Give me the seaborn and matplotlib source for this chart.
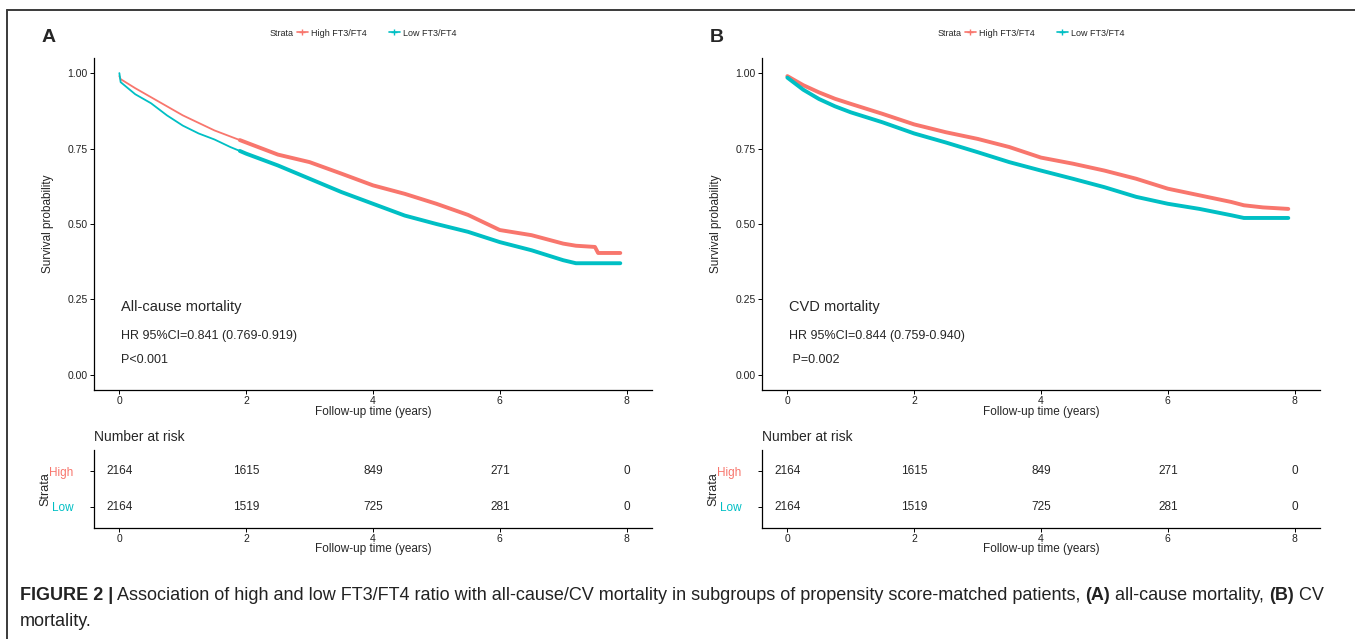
import matplotlib

matplotlib.use("Agg")
import matplotlib.pyplot as plt
import pandas as pd
import seaborn as sns
from matplotlib import font_manager
from matplotlib.lines import Line2D

# %% values
strata = ["High", "Low"]
legend_labels = ["High FT3/FT4", "Low FT3/FT4"]
colors = {"High": "#F8766D", "Low": "#00BFC4"}

# panel A: all-cause mortality
a_time = [0, 0.02, 0.25, 0.5, 0.75, 1, 1.25, 1.5, 1.75, 1.9, 2, 2.5, 3, 3.5,
          4, 4.5, 5, 5.5, 6, 6.5, 7, 7.2, 7.5, 7.55, 7.9]
a_high = [0.99, 0.98, 0.95, 0.92, 0.89, 0.86, 0.835, 0.81, 0.79, 0.778, 0.77,
          0.73, 0.705, 0.667, 0.628, 0.60, 0.567, 0.53, 0.48, 0.463, 0.435,
          0.428, 0.424, 0.404, 0.404]
a_low = [1.00, 0.97, 0.93, 0.90, 0.86, 0.826, 0.80, 0.78, 0.755, 0.742, 0.733,
         0.694, 0.65, 0.606, 0.567, 0.528, 0.50, 0.474, 0.44, 0.413, 0.38,
         0.37, 0.37, 0.37, 0.37]

# panel B: CVD mortality
b_time = [0, 0.25, 0.5, 0.75, 1, 1.5, 2, 2.5, 3, 3.5, 4, 4.5, 5, 5.5, 6, 6.5,
          7, 7.2, 7.5, 7.9]
b_high = [0.99, 0.96, 0.936, 0.915, 0.898, 0.865, 0.83, 0.804, 0.782, 0.755,
          0.72, 0.70, 0.677, 0.65, 0.617, 0.595, 0.573, 0.562, 0.555, 0.55]
b_low = [0.985, 0.945, 0.914, 0.89, 0.87, 0.837, 0.80, 0.77, 0.738, 0.705,
         0.677, 0.65, 0.622, 0.59, 0.567, 0.55, 0.529, 0.52, 0.52, 0.52]

# number at risk (same table in both panels)
risk_times = [0, 2, 4, 6, 8]
risk_high = [2164, 1615, 849, 271, 0]
risk_low = [2164, 1519, 725, 281, 0]

titles = ["All-cause mortality", "CVD mortality"]
hr_texts = ["HR 95%CI=0.841 (0.769-0.919)", "HR 95%CI=0.844 (0.759-0.940)"]
p_texts = ["P<0.001", " P=0.002"]
panel_letters = ["A", "B"]
censor_start = [1.9, 0.0]  # where the dense censoring ticks begin


def pick(*names):
    for name in names:
        try:
            font_manager.findfont(font_manager.FontProperties(family=name),
                                  fallback_to_default=False)
            return name
        except ValueError:
            pass
    return "DejaVu Sans"


sns.set_theme(style="ticks")
narrow = pick("Liberation Sans Narrow", "Liberation Sans")
regular = pick("Liberation Sans", "DejaVu Sans")
plt.rcParams["font.family"] = [narrow, "DejaVu Sans"]

W, H = 1355, 639
fig = plt.figure(figsize=(W / 100, H / 100), dpi=100)


def box(left, top, right, bottom):
    return [left / W, 1 - bottom / H, (right - left) / W, (bottom - top) / H]


def style_axis(ax):
    sns.despine(ax=ax)
    for side in ("left", "bottom"):
        ax.spines[side].set_color("black")
        ax.spines[side].set_linewidth(0.9)
    ax.tick_params(length=3, width=0.7, color="black", labelsize=7.5,
                   labelcolor="#222222", pad=1.5)


curves = [(a_time, a_high, a_low), (b_time, b_high, b_low)]
x_offsets = [0, 668]

for i, (times, high, low) in enumerate(curves):
    dx = x_offsets[i]
    df = pd.concat([
        pd.DataFrame({"time": times, "surv": high, "strata": "High"}),
        pd.DataFrame({"time": times, "surv": low, "strata": "Low"}),
    ])

    # survival curves
    ax = fig.add_axes(box(94 + dx, 58, 652 + dx, 390))
    sns.lineplot(data=df, x="time", y="surv", hue="strata", palette=colors,
                 estimator=None, lw=1.3, legend=False, ax=ax)
    sns.lineplot(data=df[df.time >= censor_start[i]], x="time", y="surv",
                 hue="strata", palette=colors, estimator=None, lw=2.8,
                 legend=False, ax=ax)
    ax.set(xlim=(-0.4, 8.4), ylim=(-0.05, 1.05))
    ax.set_xticks(risk_times)
    ax.set_yticks([0, 0.25, 0.5, 0.75, 1.0])
    ax.set_yticklabels(["0.00", "0.25", "0.50", "0.75", "1.00"])
    style_axis(ax)
    ax.set_xlabel("Follow-up time (years)", fontsize=8.5)
    ax.xaxis.set_label_coords(0.5, -(406 - 390) / 332)
    ax.set_ylabel("Survival probability", fontsize=8.5, family=regular)
    ax.yaxis.set_label_coords((54 - 94) / 558, 0.5)

    ax.text(0.03, 0.225, titles[i], fontsize=10.5, va="center")
    ax.text(0.03, 0.13, hr_texts[i], fontsize=9, va="center")
    ax.text(0.03, 0.05, p_texts[i], fontsize=9, va="center")

    # number-at-risk table
    axr = fig.add_axes(box(94 + dx, 450, 652 + dx, 528))
    for t, h, lo in zip(risk_times, risk_high, risk_low):
        axr.text(t, 2, f"{h}", ha="center", va="center", fontsize=8.5)
        axr.text(t, 1, f"{lo}", ha="center", va="center", fontsize=8.5)
    axr.set(xlim=(-0.4, 8.4), ylim=(0.4, 2.6))
    axr.set_xticks(risk_times)
    axr.set_yticks([2, 1])
    axr.set_yticklabels(strata)
    style_axis(axr)
    axr.tick_params(axis="y", pad=12, labelsize=8.5)
    for lab, s in zip(axr.get_yticklabels(), strata):
        lab.set_color(colors[s])
    axr.set_xlabel("Follow-up time (years)", fontsize=8.5)
    axr.xaxis.set_label_coords(0.5, -(543 - 528) / 78)
    axr.set_ylabel("Strata", fontsize=9, family=regular)
    axr.yaxis.set_label_coords((51 - 94) / 558, 0.5)
    fig.text((94 + dx) / W, 1 - 437 / H, "Number at risk", fontsize=10,
             va="center", ha="left")

    # panel letter and legend
    fig.text((42 + dx) / W, 1 - 38 / H, panel_letters[i], fontsize=14,
             fontweight="bold", family=regular, va="center")
    leg_x = [270, 938][i]
    fig.text(leg_x / W, 1 - 33 / H, "Strata", fontsize=6.5, va="center")
    handles = [Line2D([], [], color=colors[s], lw=1.2, marker="+", markersize=5)
               for s in strata]
    fig.legend(handles, legend_labels, loc="center left",
               bbox_to_anchor=((leg_x + 27) / W, 1 - 33 / H), ncol=2,
               frameon=False, fontsize=6.5, handlelength=1.2,
               handletextpad=0.4, columnspacing=2.4, borderpad=0,
               borderaxespad=0)

# border around the figure
border = "#3a3a3a"
fig.add_artist(Line2D([7 / W, 7 / W], [0, 1 - 10 / H], color=border, lw=1.4,
                      transform=fig.transFigure))
fig.add_artist(Line2D([7 / W, 1], [1 - 10 / H, 1 - 10 / H], color=border,
                      lw=1.4, transform=fig.transFigure))

# caption with bold parts, placed piece by piece
caption_line1 = [
    ("FIGURE 2 |", "bold"),
    (" Association of high and low FT3/FT4 ratio with all-cause/CV mortality "
     "in subgroups of propensity score-matched patients, ", "normal"),
    ("(A)", "bold"),
    (" all-cause mortality, ", "normal"),
    ("(B)", "bold"),
    (" CV", "normal"),
]
caption_line2 = "mortality."
renderer = fig.canvas.get_renderer()
x = 20
for text, weight in caption_line1:
    t = fig.text(x / W, 1 - 596 / H, text, fontsize=13.0, fontweight=weight,
                 family=regular, color="#222222", va="center")
    x += t.get_window_extent(renderer).width
fig.text(20 / W, 1 - 621 / H, caption_line2, fontsize=13.0, family=regular,
         color="#222222", va="center")

fig.savefig("out.png", dpi=100)
